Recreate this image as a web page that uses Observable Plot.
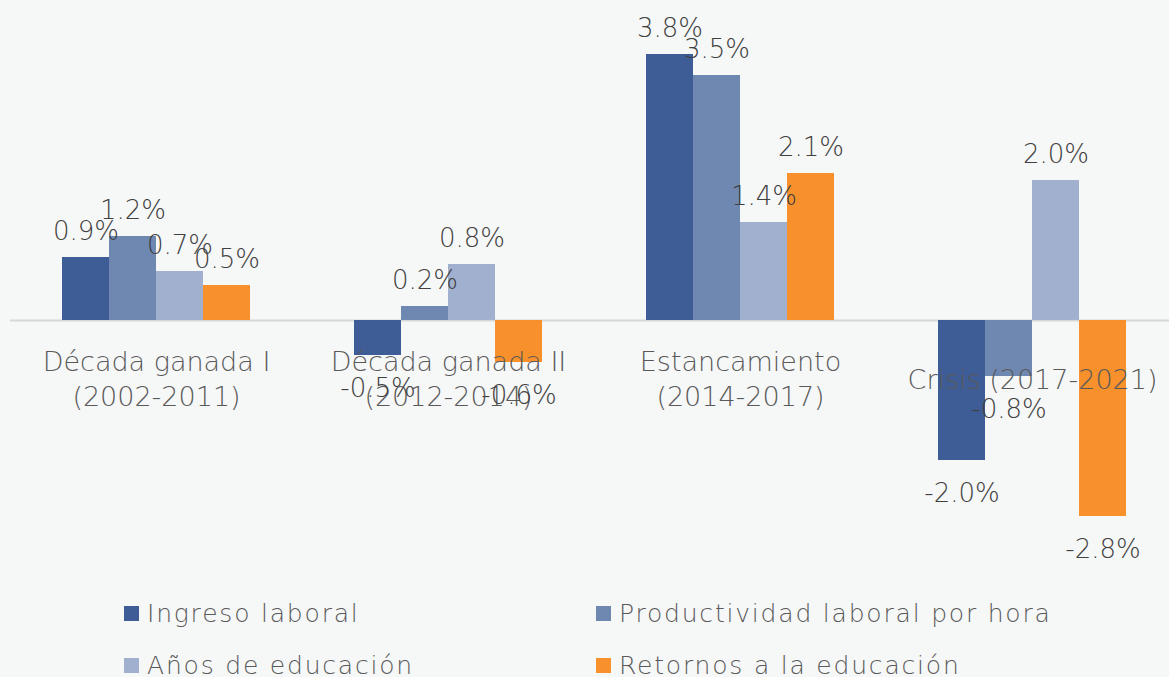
<!DOCTYPE html>
<html>
<head>
<meta charset="utf-8">
<script src="https://cdn.jsdelivr.net/npm/d3@7"></script>
<script src="https://cdn.jsdelivr.net/npm/@observablehq/plot@0.6"></script>
<style>
  html, body { margin: 0; padding: 0; background: #f6f7f7; overflow: hidden; }
  #wrap { position: relative; width: 1169px; height: 677px; font-family: "DejaVu Sans", sans-serif; color: #595959; }
  #legend .item { position: absolute; display: flex; align-items: center; font-size: 25px; font-weight: 300; letter-spacing: 1.8px; white-space: nowrap; height: 40px; }
  #legend .sw { width: 15px; height: 15px; margin-right: 8px; }
</style>
</head>
<body>
<div id="wrap"><div id="chart"></div><div id="legend"></div></div>
<script>
const groups = ["Década ganada I\n(2002-2011)", "Década ganada II\n(2012-2014)", "Estancamiento\n(2014-2017)", "Crisis (2017-2021)"];
const series = ["Ingreso laboral", "Productividad laboral por hora", "Años de educación", "Retornos a la educación"];
const colors = ["#3e5c96", "#6f88b2", "#a1b0cf", "#f8912b"];
const values = [
  [0.9, 1.2, 0.7, 0.5],
  [-0.5, 0.2, 0.8, -0.6],
  [3.8, 3.5, 1.4, 2.1],
  [-2.0, -0.8, 2.0, -2.8]
];

const data = [];
groups.forEach((g, i) => series.forEach((s, j) => data.push({group: g, series: s, value: values[i][j]})));
const fmt = d => d.value.toFixed(1) + "%";

const chart = Plot.plot({
  width: 1169,
  height: 580,
  style: {background: "transparent", fontFamily: "DejaVu Sans, sans-serif", fontWeight: 300, overflow: "visible"},
  fx: {domain: groups, range: [8.5, 1178.5], padding: 0, axis: null},
  x: {domain: series, paddingInner: 0, paddingOuter: 1.06, axis: null},
  y: {domain: [-3, 4], range: [530, 40], axis: null},
  color: {domain: series, range: colors},
  marks: [
    Plot.ruleY([0], {stroke: "#d6d7d7", strokeWidth: 2}),
    Plot.barY(data, {fx: "group", x: "series", y: "value", fill: "series"}),
    Plot.text(groups, {fx: d => d, y: 0, text: d => d, dy: 57, fontSize: 27, fill: "#595959", lineHeight: 1.3, style: "letter-spacing:1.5px"}),
    Plot.text(data.filter(d => d.value >= 0), {fx: "group", x: "series", y: "value", text: fmt, dy: -26, fontSize: 26, fill: "#404040", style: "letter-spacing:-1px"}),
    Plot.text(data.filter(d => d.value < 0), {fx: "group", x: "series", y: "value", text: fmt, dy: 33, fontSize: 26, fill: "#404040", style: "letter-spacing:-1px"})
  ]
});
document.getElementById("chart").appendChild(chart);

const legend = document.getElementById("legend");
const pos = [[124, 593], [596, 593], [124, 645], [596, 645]];
series.forEach((s, i) => {
  const it = document.createElement("div");
  it.className = "item";
  it.style.left = pos[i][0] + "px";
  it.style.top = pos[i][1] + "px";
  const sw = document.createElement("span");
  sw.className = "sw";
  sw.style.background = colors[i];
  const tx = document.createElement("span");
  tx.textContent = s;
  it.appendChild(sw); it.appendChild(tx);
  legend.appendChild(it);
});
</script>
</body>
</html>
